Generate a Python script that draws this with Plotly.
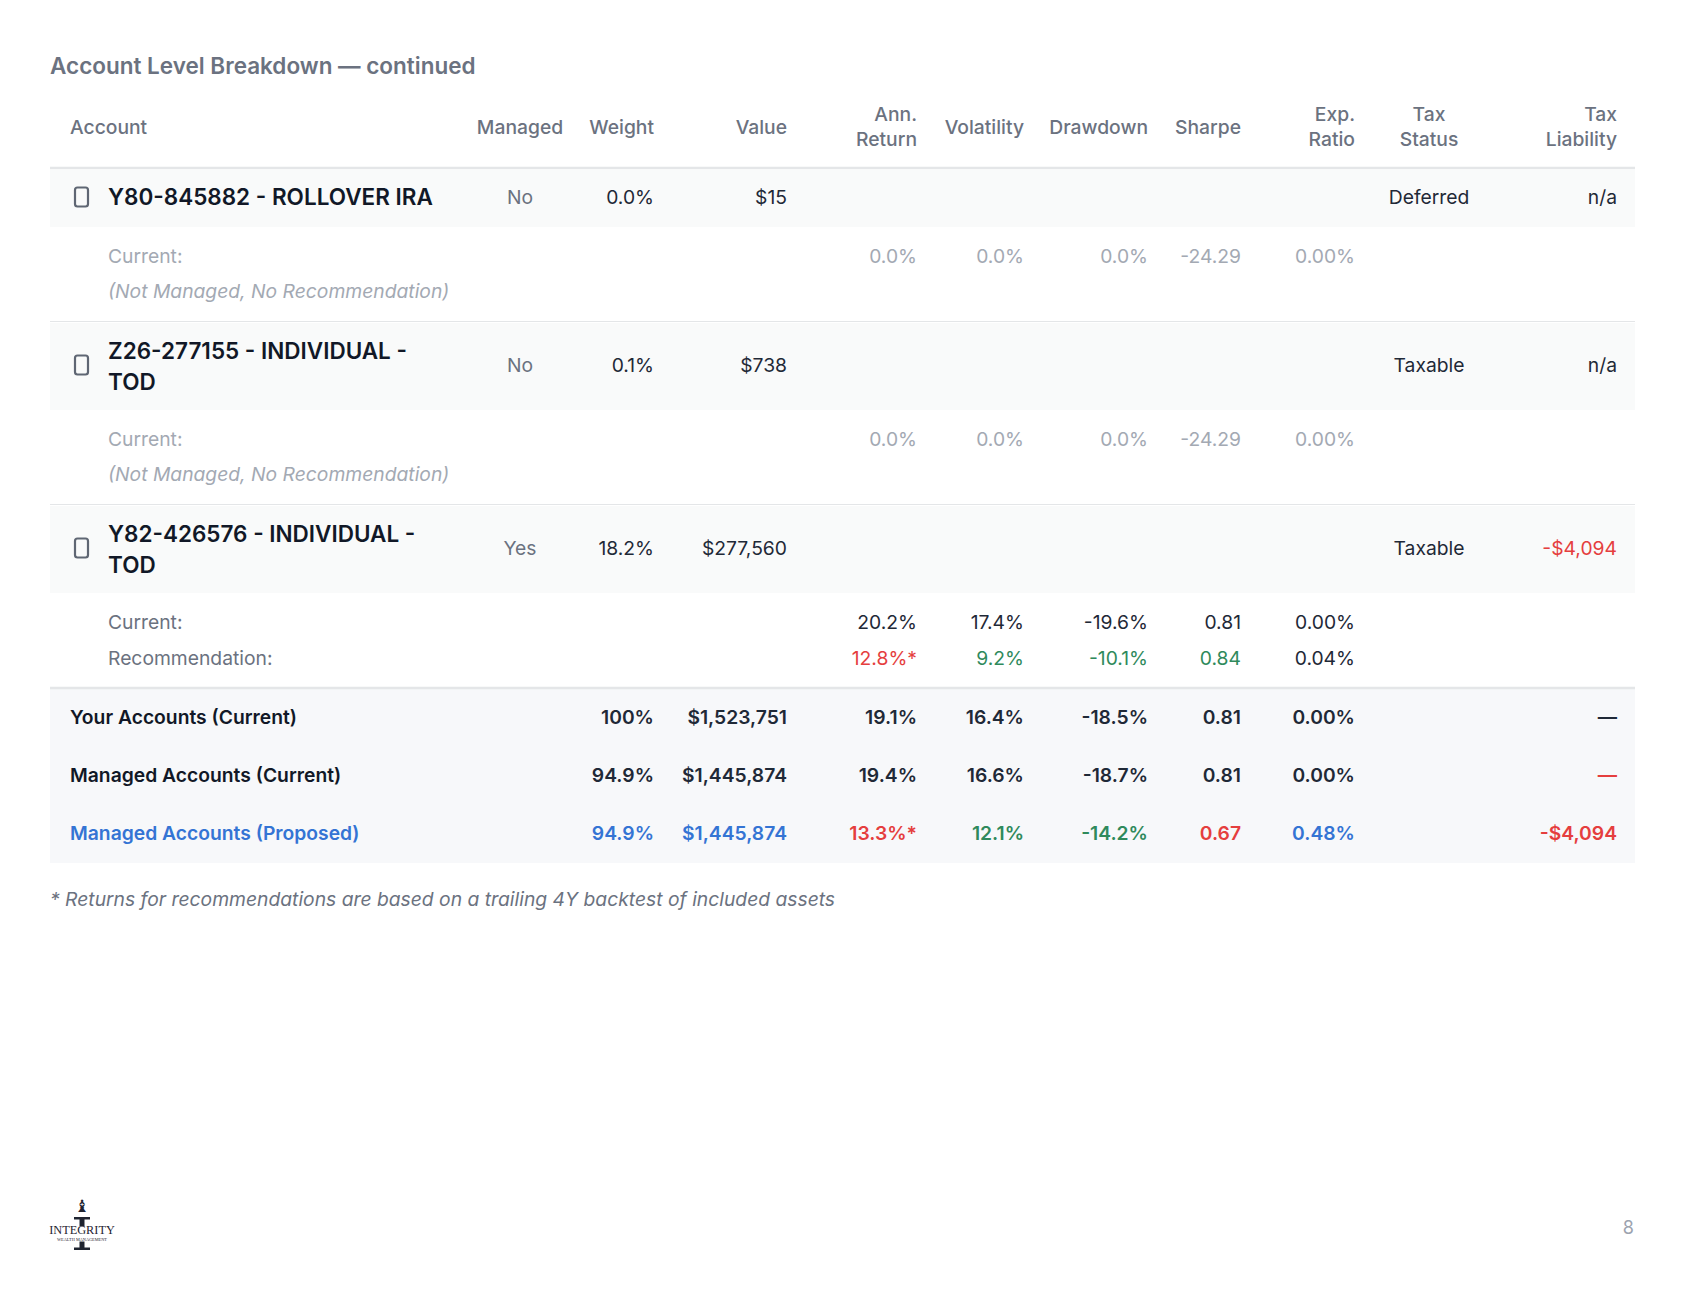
import plotly.graph_objects as go

# Data -----------------------------------------------------------------------------------------------
title = "Account Level Breakdown — continued"
headers = ["Account", "Managed", "Weight", "Value", "Ann.<br>Return", "Volatility",
           "Drawdown", "Sharpe", "Exp.<br>Ratio", "Tax<br>Status", "Tax<br>Liability"]

accounts = ["Y80-845882 - ROLLOVER IRA", "Z26-277155 - INDIVIDUAL -<br>TOD", "Y82-426576 - INDIVIDUAL -<br>TOD"]
managed = ["No", "No", "Yes"]
weight = ["0.0%", "0.1%", "18.2%"]
value = ["$15", "$738", "$277,560"]
tax_status = ["Deferred", "Taxable", "Taxable"]
tax_liability = ["n/a", "n/a", "-$4,094"]

# current metrics per account: ann. return, volatility, drawdown, sharpe, exp. ratio
current_metrics = [
    ["0.0%", "0.0%", "0.0%", "-24.29", "0.00%"],
    ["0.0%", "0.0%", "0.0%", "-24.29", "0.00%"],
    ["20.2%", "17.4%", "-19.6%", "0.81", "0.00%"],
]
rec_metrics = ["12.8%*", "9.2%", "-10.1%", "0.84", "0.04%"]

total_labels = ["Your Accounts (Current)", "Managed Accounts (Current)", "Managed Accounts (Proposed)"]
total_weight = ["100%", "94.9%", "94.9%"]
total_value = ["$1,523,751", "$1,445,874", "$1,445,874"]
total_metrics = [
    ["19.1%", "16.4%", "-18.5%", "0.81", "0.00%"],
    ["19.4%", "16.6%", "-18.7%", "0.81", "0.00%"],
    ["13.3%*", "12.1%", "-14.2%", "0.67", "0.48%"],
]
total_liability = ["—", "—", "-$4,094"]

footnote = "* Returns for recommendations are based on a trailing 4Y backtest of included assets"
page_no = "8"
logo_name = "INTEGRITY"
logo_sub = "WEALTH MANAGEMENT"

# Layout (pixel space) -------------------------------------------------------------------------------
W, H = 1686, 1304
PAD = 8  # default body margin of the html page
LEFT, RIGHT = 50, 1635
col_x = {"acct": 70, "name": 108, "icon": 81.5, "managed": 520, "weight": 654, "value": 787,
         "ann": 917, "vol": 1024, "dd": 1148, "sharpe": 1241, "exp": 1355,
         "status": 1429, "liab": 1617}
metric_cols = ["ann", "vol", "dd", "sharpe", "exp"]

header_y = 129
acct_y = [199, 367, 550]
bands = [(170, 227), (323, 410), (506, 593)]
sub_y = [(258, 293), (441, 476), (624, 660)]
total_y = [719, 777, 835]
NAME_GAP = 31
NAME_SHIFT = 2  # two-line names sit a touch lower

FONT = "Inter"
FS = 19.3
C_HEAD = "#6b7280"
C_DARK = "#1f2937"
C_NAME = "#111827"
C_LIGHT = "#a3a9b3"
C_RED = "#e53e3e"
C_GREEN = "#2f8a5c"
C_BLUE = "#3474d4"
C_LOGO = "#1f2430"

fig = go.Figure()


def add_text(xs, ys, texts, colors, size=FS, weight=400, pos="middle left", style="normal", family=FONT):
    if isinstance(colors, str):
        colors = [colors] * len(texts)
    fig.add_trace(go.Scatter(
        x=xs, y=ys, text=texts, mode="text", textposition=pos,
        textfont=dict(family=family, size=size, color=colors, weight=weight, style=style),
        hoverinfo="skip", showlegend=False,
    ))


def rounded_rect(cx, cy, w, h, r):
    x0, x1, y0, y1 = cx - w / 2, cx + w / 2, cy - h / 2, cy + h / 2
    return (f"M {x0 + r},{y0} L {x1 - r},{y0} Q {x1},{y0} {x1},{y0 + r} L {x1},{y1 - r} "
            f"Q {x1},{y1} {x1 - r},{y1} L {x0 + r},{y1} Q {x0},{y1} {x0},{y1 - r} "
            f"L {x0},{y0 + r} Q {x0},{y0} {x0 + r},{y0} Z")


# backgrounds and rules
for y0, y1 in bands:
    fig.add_shape(type="rect", x0=LEFT, x1=RIGHT, y0=y0, y1=y1, fillcolor="#f9fafa", line_width=0, layer="below")
fig.add_shape(type="rect", x0=LEFT, x1=RIGHT, y0=689, y1=863, fillcolor="#f7f8fa", line_width=0, layer="below")
fig.add_shape(type="line", x0=LEFT, x1=RIGHT, y0=168, y1=168, line=dict(color="#e4e6e8", width=2.5))
fig.add_shape(type="line", x0=LEFT, x1=RIGHT, y0=321.5, y1=321.5, line=dict(color="#e4e6e8", width=1.2))
fig.add_shape(type="line", x0=LEFT, x1=RIGHT, y0=504.5, y1=504.5, line=dict(color="#e4e6e8", width=1.2))
fig.add_shape(type="line", x0=LEFT, x1=RIGHT, y0=688, y1=688, line=dict(color="#e4e6e8", width=2.5))

# title
add_text([LEFT], [68], [title], C_HEAD, size=22.5, weight=600, pos="middle right")

# header row
head_keys = ["acct", "managed", "weight", "value", "ann", "vol", "dd", "sharpe", "exp", "status", "liab"]
for key, h in zip(head_keys, headers):
    pos = "middle right" if key == "acct" else ("middle center" if key in ("managed", "status") else "middle left")
    add_text([col_x[key]], [header_y], [h], C_HEAD, weight=500, pos=pos)

# account rows: checkbox icon, name, scalar columns
for y in acct_y:
    fig.add_shape(type="path", path=rounded_rect(col_x["icon"], y - 2, 13, 19, 2.5),
                  line=dict(color="#5f6673", width=2.2), fillcolor="rgba(0,0,0,0)")
name_x, name_y, name_t = [], [], []
for y, name in zip(acct_y, accounts):
    lines = name.split("<br>")
    top = y - NAME_GAP * (len(lines) - 1) / 2 + (NAME_SHIFT if len(lines) > 1 else 0)
    for k, line in enumerate(lines):
        name_x.append(col_x["name"])
        name_y.append(top + k * NAME_GAP)
        name_t.append(line)
add_text(name_x, name_y, name_t, C_NAME, size=22.5, weight=600, pos="middle right")
add_text([col_x["managed"]] * 3, acct_y, managed, C_HEAD, pos="middle center")
add_text([col_x["weight"]] * 3, acct_y, weight, C_DARK)
add_text([col_x["value"]] * 3, acct_y, value, C_DARK)
add_text([col_x["status"]] * 3, acct_y, tax_status, C_DARK, pos="middle center")
add_text([col_x["liab"]] * 3, acct_y, tax_liability, [C_DARK, C_DARK, C_RED])

# sub rows
for i, (ya, yb) in enumerate(sub_y):
    is_managed = managed[i] == "Yes"
    lab_color = C_HEAD if is_managed else C_LIGHT
    val_color = C_DARK if is_managed else C_LIGHT
    add_text([col_x["name"]], [ya], ["Current:"], lab_color, pos="middle right")
    add_text([col_x[k] for k in metric_cols], [ya] * 5, current_metrics[i], val_color)
    if is_managed:
        add_text([col_x["name"]], [yb], ["Recommendation:"], lab_color, pos="middle right")
        add_text([col_x[k] for k in metric_cols], [yb] * 5, rec_metrics,
                 [C_RED, C_GREEN, C_GREEN, C_GREEN, C_DARK])
    else:
        add_text([col_x["name"]], [yb], ["(Not Managed, No Recommendation)"], C_LIGHT,
                 pos="middle right", style="italic")

# totals
row_colors = [
    [C_DARK] * 8,
    [C_DARK] * 7 + [C_RED],
    [C_BLUE, C_BLUE, C_RED, C_GREEN, C_GREEN, C_RED, C_BLUE, C_RED],
]
add_text([col_x["acct"]] * 3, total_y, total_labels, [C_NAME, C_NAME, C_BLUE], weight=600, pos="middle right")
for i, ty in enumerate(total_y):
    keys = ["weight", "value"] + metric_cols + ["liab"]
    vals = [total_weight[i], total_value[i]] + total_metrics[i] + [total_liability[i]]
    add_text([col_x[k] for k in keys], [ty] * len(keys), vals, row_colors[i], weight=600)

# footnote and footer
add_text([LEFT], [901], [footnote], C_HEAD, pos="middle right", style="italic")
add_text([1634], [1229], [page_no], "#9ca3af", size=18, pos="middle left")

# logo: torch on a pillar with the firm name
LX = 82
fig.add_shape(type="rect", x0=LX - 8, x1=LX + 8, y0=1217, y1=1219.5, fillcolor=C_LOGO, line_width=0)
fig.add_shape(type="rect", x0=LX - 2.5, x1=LX + 2.5, y0=1219, y1=1226, fillcolor=C_LOGO, line_width=0)
fig.add_shape(type="rect", x0=LX - 2.5, x1=LX + 2.5, y0=1241.5, y1=1248, fillcolor=C_LOGO, line_width=0)
fig.add_shape(type="rect", x0=LX - 8, x1=LX + 8, y0=1247.5, y1=1250, fillcolor=C_LOGO, line_width=0)
add_text([LX], [1208], ["♝"], C_LOGO, size=17, pos="middle center", family="DejaVu Sans")
add_text([LX], [1231], [logo_name], C_LOGO, size=12.3, pos="middle center", family="Liberation Serif")
add_text([LX], [1239.5], [logo_sub], C_LOGO, size=4.3, pos="middle center", family="Liberation Serif")

fig.update_layout(
    width=W, height=H,
    margin=dict(l=0, r=0, t=0, b=0),
    paper_bgcolor="white", plot_bgcolor="white",
    xaxis=dict(range=[PAD, W + PAD], visible=False, fixedrange=True),
    yaxis=dict(range=[H + PAD, PAD], visible=False, fixedrange=True),
    showlegend=False,
)

fig.write_html("out.html")
